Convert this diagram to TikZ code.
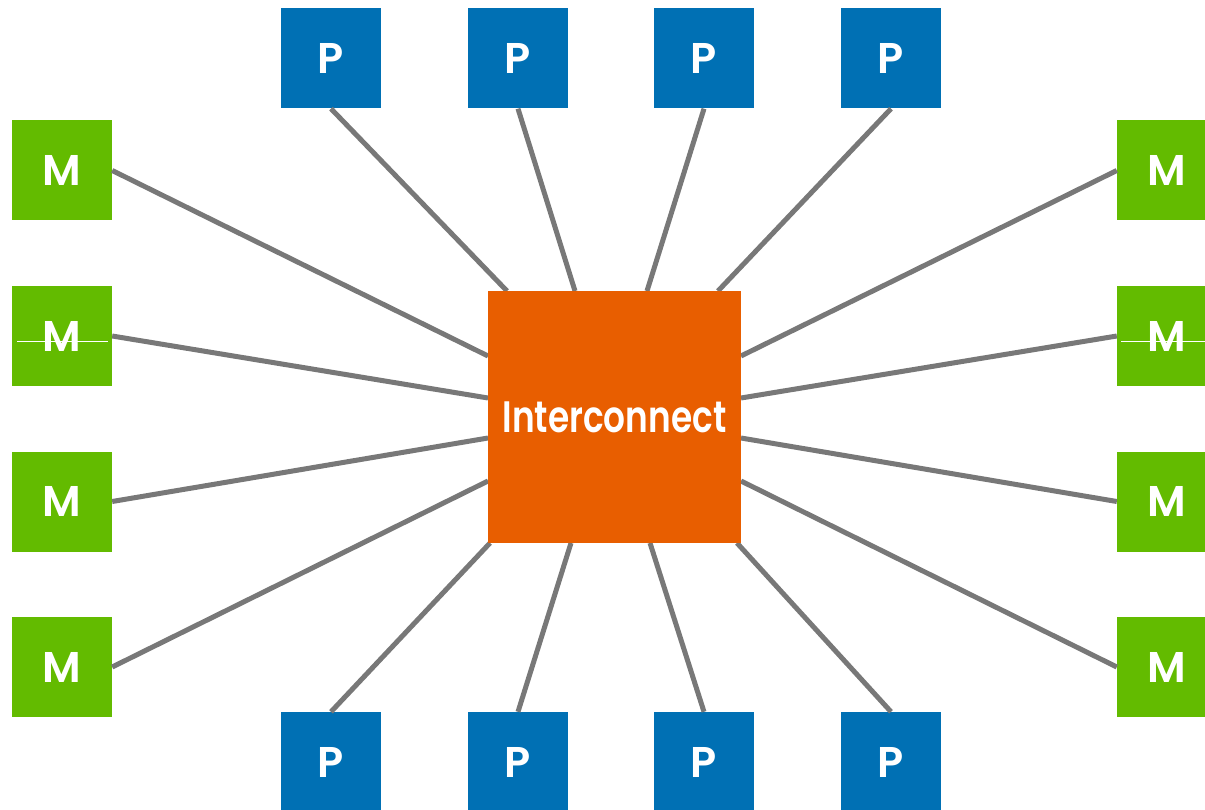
\documentclass[tikz,border=0pt]{standalone}
\usepackage{fontspec}
\setmainfont{Poppins}
\newfontfamily\labfont{Poppins SemiBold}
\newfontfamily\hubfont{Poppins SemiBold}[FakeStretch=0.78]
\definecolor{icorange}{RGB}{232,94,0}
\definecolor{pblue}{RGB}{0,112,180}
\definecolor{mgreen}{RGB}{99,187,0}
\definecolor{wire}{RGB}{120,120,120}
\begin{document}
\begin{tikzpicture}[x=1pt,y=-1pt,
  unit/.style={minimum width=100pt,minimum height=100pt,inner sep=0pt,
    text=white,font=\labfont\fontsize{43}{43}\selectfont},
  proc/.style={unit,fill=pblue},
  mem/.style={unit,fill=mgreen},
  hub/.style={fill=icorange,minimum width=253pt,minimum height=252pt,inner sep=0pt,
    text=white,font=\hubfont\fontsize{44}{44}\selectfont},
  link/.style={draw=wire,line width=5pt}]
\useasboundingbox (0,0) rectangle (1205,810);

% processors along the top and bottom
\foreach \i/\x in {1/331,2/518,3/704,4/891}{
  \node[proc] (pt\i) at (\x,58.5) {P};
  \node[proc] (pb\i) at (\x,762) {P};
}
% memories on the left and right
\foreach \i/\y in {1/170.5,2/336,3/501.5,4/667}{
  \node[mem] (ml\i) at (62,\y) {M};
  \node[mem] (mr\i) at (1167,\y) {M};
}

% attachment points on the interconnect
\coordinate (at1) at (507,291);
\coordinate (at2) at (575,291);
\coordinate (at3) at (647,291);
\coordinate (at4) at (718,291);
\coordinate (ab1) at (490,543);
\coordinate (ab2) at (571,543);
\coordinate (ab3) at (650,543);
\coordinate (ab4) at (737,543);
\coordinate (al1) at (488,356);
\coordinate (al2) at (488,398);
\coordinate (al3) at (488,438);
\coordinate (al4) at (488,481);
\coordinate (ar1) at (741,356);
\coordinate (ar2) at (741,398);
\coordinate (ar3) at (741,438);
\coordinate (ar4) at (741,481);

% wires
\foreach \i in {1,...,4}{
  \draw[link] (pt\i.south) -- (at\i);
  \draw[link] (pb\i.north) -- (ab\i);
  \draw[link] (ml\i.east) -- (al\i);
  \draw[link] (mr\i.west) -- (ar\i);
}

% interconnect
\node[hub] (ic) at (614.5,417) {Interconnect};

% hairlines across the second memories
\coordinate (hl1) at (17,342);
\coordinate (hl2) at (108,342);
\coordinate (hr1) at (1121,342);
\coordinate (hr2) at (1205,342);
\draw[white,line width=1pt] (hl1) -- (hl2);
\draw[white,line width=1pt] (hr1) -- (hr2);
\end{tikzpicture}
\end{document}
